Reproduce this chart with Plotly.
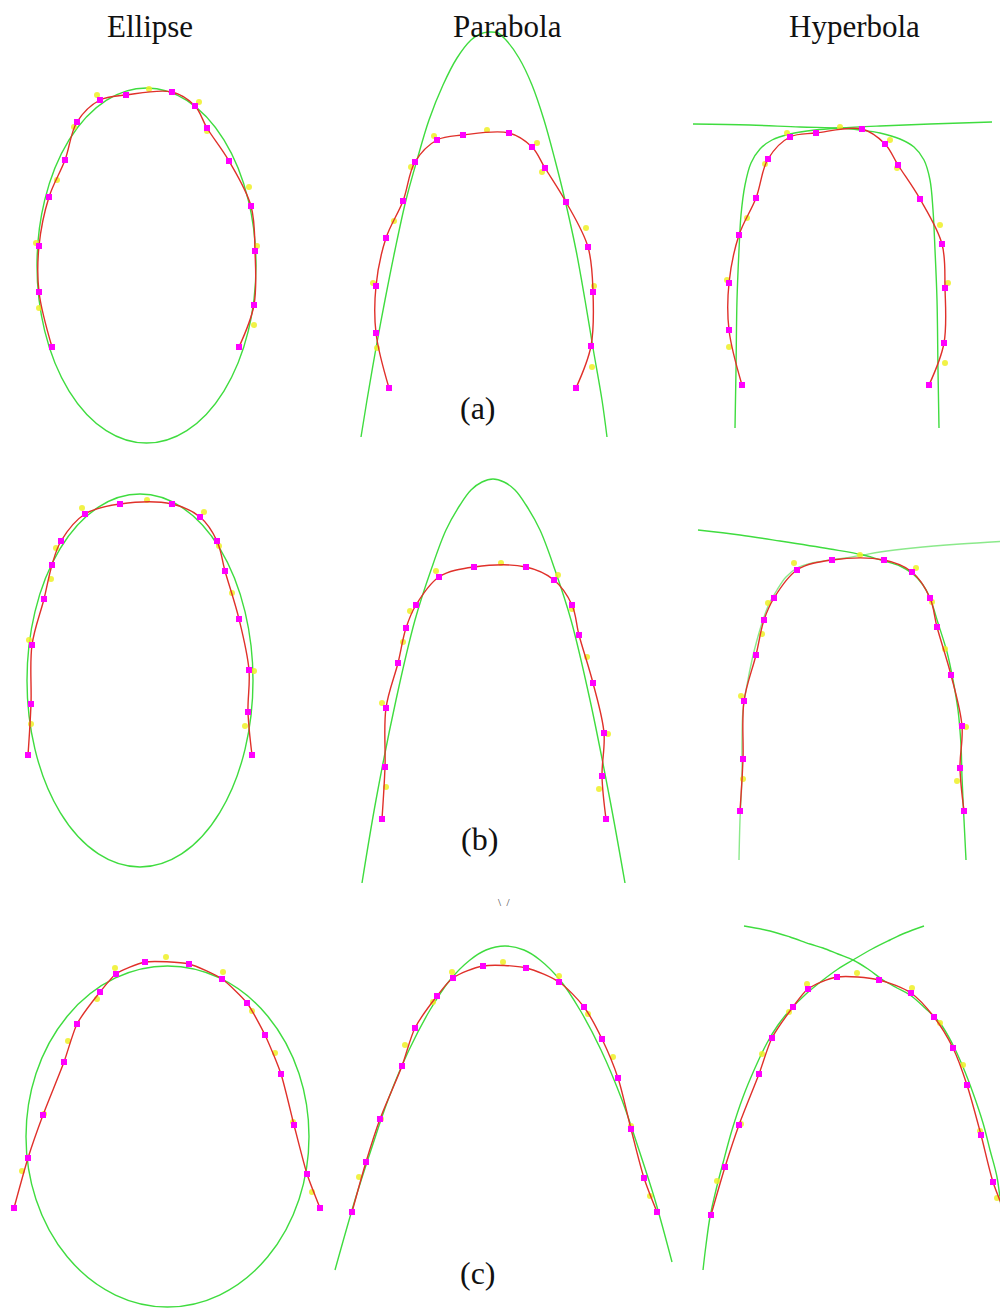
import plotly.graph_objects as go

# ---- column titles and row labels ----
col_titles = ["Ellipse", "Parabola", "Hyperbola"]
col_title_x = [150, 507, 854]
row_labels = ["(a)", "(b)", "(c)"]
row_label_x = [478, 479, 478]
row_label_y = [408, 839, 1273]

# ---- fitted ellipses (bounding boxes: x0, x1, y0, y1) ----
ellipse_x0 = [37, 27, 26]
ellipse_x1 = [256, 253, 309]
ellipse_y0 = [88, 494, 966]
ellipse_y1 = [443, 867, 1307]

# ---- row (a) ----
ell_a_mag = [(52, 347), (39, 292), (39, 246), (49, 197), (65, 160), (77, 122), (100, 100), (126, 95),
             (172, 92), (195, 106), (207, 128), (229, 161), (251, 206), (255, 251), (254, 305), (239, 347)]
ell_a_yel = [(97, 95), (149, 89), (199, 102), (207, 131), (249, 187), (257, 246), (254, 325),
             (74, 127), (57, 180), (36, 243), (39, 308)]

par_a_mag = [(389, 388), (376, 333), (376, 286), (386, 238), (403, 201), (415, 162), (437, 140), (463, 135),
             (509, 133), (532, 147), (545, 168), (566, 202), (588, 247), (593, 292), (591, 346), (576, 388)]
par_a_yel = [(373, 283), (377, 348), (394, 221), (411, 167), (434, 136), (487, 130), (537, 143),
             (542, 172), (586, 228), (594, 286), (592, 367)]
par_a_fit = [(361, 437), (367, 400), (376, 348), (385, 300), (395, 250), (406, 200), (417, 160), (429, 120),
             (443, 85), (457, 58), (471, 40), (480, 34), (489, 32), (498, 33), (506, 40), (519, 58),
             (532, 85), (544, 120), (555, 160), (565, 200), (576, 250), (585, 300), (593, 348),
             (602, 400), (607, 437)]

hyp_a_mag = [(742, 385), (729, 330), (729, 283), (739, 235), (756, 198), (768, 159), (790, 137), (816, 133),
             (862, 129), (885, 144), (898, 165), (920, 199), (942, 244), (945, 288), (944, 343), (929, 385)]
hyp_a_yel = [(727, 280), (729, 347), (747, 218), (765, 164), (787, 133), (840, 127), (890, 140),
             (897, 168), (940, 225), (948, 283), (945, 363)]
hyp_a_fit1 = [(735, 428), (736, 370), (737, 300), (739, 250), (741, 215), (745, 185), (751, 163),
              (760, 149), (772, 140), (790, 134), (815, 130), (840, 128), (880, 126), (930, 124), (992, 122)]
hyp_a_fit2 = [(939, 428), (938, 370), (937, 300), (935, 250), (933, 210), (930, 180), (924, 160),
              (914, 147), (900, 139), (880, 133), (860, 130), (840, 128), (800, 127), (750, 125), (693, 124)]

# ---- row (b) ----
ell_b_mag = [(28, 755), (31, 704), (32, 645), (44, 599), (52, 565), (61, 541), (85, 514), (120, 504),
             (172, 504), (200, 517), (217, 541), (225, 571), (239, 619), (249, 670), (248, 712), (252, 755)]
ell_b_yel = [(29, 640), (31, 724), (51, 579), (56, 548), (82, 508), (147, 500), (204, 512),
             (219, 546), (232, 593), (254, 671), (245, 726)]

par_b_mag = [(382, 819), (385, 767), (386, 708), (398, 663), (406, 628), (416, 605), (439, 577), (474, 567),
             (526, 567), (554, 580), (572, 605), (579, 635), (593, 683), (604, 733), (602, 776), (606, 819)]
par_b_yel = [(382, 703), (386, 787), (403, 642), (410, 611), (436, 571), (501, 563), (558, 575),
             (572, 609), (587, 657), (608, 734), (599, 789)]
par_b_fit = [(362, 883), (376, 800), (396, 700), (415, 620), (431, 570), (446, 530), (460, 505), (471, 490),
             (482, 482), (493, 479), (504, 482), (515, 490), (526, 505), (540, 530), (555, 570),
             (571, 620), (590, 700), (610, 800), (625, 883)]

hyp_b_mag = [(740, 811), (743, 759), (744, 701), (756, 655), (764, 620), (774, 598), (797, 570), (832, 560),
             (884, 560), (912, 572), (930, 598), (937, 627), (951, 675), (962, 726), (960, 768), (964, 811)]
hyp_b_yel = [(741, 696), (743, 779), (762, 634), (768, 603), (794, 563), (860, 555), (916, 568),
             (932, 602), (945, 649), (966, 727), (957, 781)]
hyp_b_fit1 = [(698, 530), (740, 535), (780, 541), (830, 549), (863, 555), (884, 561), (900, 566),
              (913, 574), (923, 585), (930, 598), (938, 623), (947, 652), (953, 680), (958, 710),
              (961, 745), (962, 777), (964, 820), (966, 860)]
hyp_b_fit2 = [(1008, 541), (960, 544), (913, 548), (880, 552), (863, 555), (845, 558), (830, 560),
              (812, 563), (797, 568), (786, 577), (777, 590), (769, 604), (763, 620), (757, 640),
              (752, 660), (747, 685), (743, 710), (742, 745), (742, 777), (740, 820), (739, 860)]

# ---- row (c) ----
ell_c_mag = [(14, 1208), (28, 1158), (43, 1115), (64, 1062), (77, 1024), (100, 992), (116, 974), (145, 962),
             (189, 964), (222, 979), (247, 1003), (265, 1035), (281, 1074), (294, 1125), (307, 1174), (320, 1208)]
ell_c_yel = [(22, 1171), (44, 1114), (68, 1041), (97, 999), (115, 968), (166, 957), (223, 972),
             (252, 1011), (275, 1053), (293, 1122), (312, 1192)]

par_c_mag = [(352, 1212), (366, 1162), (380, 1119), (402, 1066), (415, 1028), (437, 996), (453, 978), (483, 966),
             (526, 968), (559, 982), (584, 1007), (602, 1039), (618, 1078), (631, 1129), (644, 1178), (657, 1212)]
par_c_yel = [(359, 1177), (381, 1119), (405, 1045), (433, 1002), (452, 972), (503, 962), (559, 976),
             (588, 1014), (613, 1057), (631, 1126), (650, 1196)]
par_c_fit = [(335, 1270), (355, 1200), (371, 1150), (388, 1100), (409, 1050), (430, 1010), (450, 980),
             (470, 960), (486, 950), (505, 946), (524, 950), (540, 960), (560, 980), (580, 1010),
             (601, 1050), (622, 1100), (639, 1150), (655, 1200), (672, 1262)]

hyp_c_mag = [(711, 1215), (725, 1167), (739, 1125), (759, 1074), (772, 1038), (793, 1007), (808, 989), (837, 977),
             (879, 980), (911, 993), (934, 1017), (953, 1048), (967, 1085), (981, 1135), (993, 1182), (1006, 1215)]
hyp_c_yel = [(717, 1181), (741, 1124), (762, 1054), (789, 1012), (807, 984), (857, 973), (912, 988),
             (940, 1023), (963, 1065), (980, 1131), (997, 1198)]
hyp_c_fit1 = [(744, 926), (770, 931), (790, 937), (810, 944), (823, 948), (838, 954), (853, 960),
              (868, 969), (883, 980), (897, 988), (910, 995), (925, 1008), (940, 1023), (952, 1043),
              (963, 1067), (973, 1093), (983, 1123), (990, 1150), (997, 1177), (1002, 1215), (1007, 1255)]
hyp_c_fit2 = [(924, 926), (905, 933), (890, 940), (872, 949), (853, 960), (838, 969), (823, 980),
              (806, 994), (790, 1010), (778, 1025), (767, 1043), (755, 1068), (743, 1097), (732, 1130),
              (723, 1163), (716, 1190), (710, 1217), (706, 1245), (703, 1270)]

GREEN = '#3fdc3f'
RED = '#e0302a'
MAGENTA = '#ff00ff'
YELLOW = '#eef026'

# page body has an 8px default margin, so the figure is 8px smaller
# and the axis ranges start at 8 to keep a 1:1 pixel mapping
PAGE_OFFSET = 8

fig = go.Figure()


def xs(pts):
    return [p[0] for p in pts]


def ys(pts):
    return [p[1] for p in pts]


def add_fit(pts, opacity=1.0):
    fig.add_trace(go.Scatter(x=xs(pts), y=ys(pts), mode='lines', opacity=opacity,
                             line=dict(color=GREEN, width=1.4, shape='spline', smoothing=1.0),
                             hoverinfo='skip', showlegend=False))


def add_points(mag, yel, smoothing):
    fig.add_trace(go.Scatter(x=xs(yel), y=ys(yel), mode='markers',
                             marker=dict(color=YELLOW, size=6, symbol='circle', opacity=0.85),
                             hoverinfo='skip', showlegend=False))
    fig.add_trace(go.Scatter(x=xs(mag), y=ys(mag), mode='lines',
                             line=dict(color=RED, width=1.4, shape='spline', smoothing=smoothing),
                             hoverinfo='skip', showlegend=False))
    fig.add_trace(go.Scatter(x=xs(mag), y=ys(mag), mode='markers',
                             marker=dict(color=MAGENTA, size=6, symbol='square'),
                             hoverinfo='skip', showlegend=False))


# ellipse fits as shapes in data coordinates
for i in range(3):
    fig.add_shape(type='circle', xref='x', yref='y',
                  x0=ellipse_x0[i], x1=ellipse_x1[i], y0=ellipse_y0[i], y1=ellipse_y1[i],
                  line=dict(color=GREEN, width=1.4), layer='below')

add_fit(par_a_fit)
add_fit(hyp_a_fit1)
add_fit(hyp_a_fit2)
add_fit(par_b_fit)
add_fit(hyp_b_fit1)
add_fit(hyp_b_fit2, opacity=0.6)
add_fit(par_c_fit)
add_fit(hyp_c_fit1)
add_fit(hyp_c_fit2)

add_points(ell_a_mag, ell_a_yel, 1.0)
add_points(par_a_mag, par_a_yel, 1.0)
add_points(hyp_a_mag, hyp_a_yel, 1.0)
add_points(ell_b_mag, ell_b_yel, 1.0)
add_points(par_b_mag, par_b_yel, 1.0)
add_points(hyp_b_mag, hyp_b_yel, 1.0)
add_points(ell_c_mag, ell_c_yel, 0.6)
add_points(par_c_mag, par_c_yel, 0.8)
add_points(hyp_c_mag, hyp_c_yel, 0.8)

title_font = dict(family='Liberation Serif, DejaVu Serif, serif', size=31, color='#111111')
label_font = dict(family='Liberation Serif, DejaVu Serif, serif', size=32, color='#111111')
for t, x in zip(col_titles, col_title_x):
    fig.add_annotation(x=x, y=26, xref='x', yref='y', text=t, showarrow=False,
                       font=title_font, xanchor='center', yanchor='middle')
for t, x, y in zip(row_labels, row_label_x, row_label_y):
    fig.add_annotation(x=x, y=y, xref='x', yref='y', text=t, showarrow=False,
                       font=label_font, xanchor='center', yanchor='middle')
# clipped label remnant between rows (b) and (c)
fig.add_annotation(x=504, y=902, xref='x', yref='y', text='\\  /', showarrow=False,
                   font=dict(family='Liberation Serif, serif', size=11, color='#333333'),
                   xanchor='center', yanchor='middle')

fig.update_xaxes(range=[PAGE_OFFSET, 1008], visible=False, fixedrange=True)
fig.update_yaxes(range=[1308, PAGE_OFFSET], visible=False, fixedrange=True)
fig.update_layout(width=1008 - PAGE_OFFSET, height=1308 - PAGE_OFFSET,
                  margin=dict(l=0, r=0, t=0, b=0),
                  paper_bgcolor='white', plot_bgcolor='white')

fig.write_html("out.html")
